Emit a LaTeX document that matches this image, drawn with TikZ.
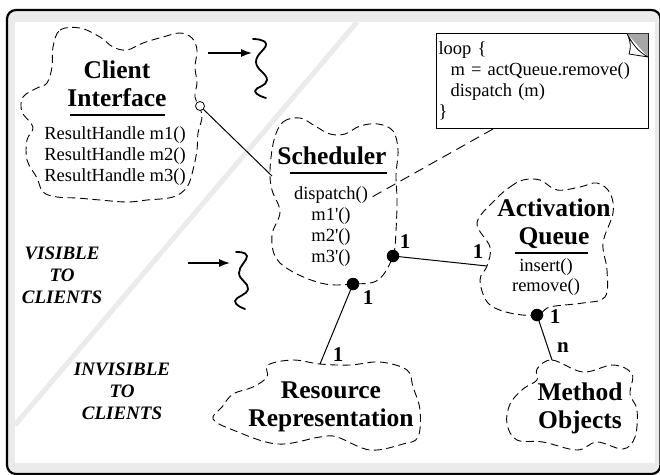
\documentclass[tikz,border=0pt]{standalone}
\usepackage{fontspec}
\setmainfont{Liberation Serif}
\usetikzlibrary{arrows.meta}
\definecolor{panelgray}{gray}{0.92}
\newcommand\hdfont{\fontsize{25.5}{28.5}\selectfont\bfseries}
\newcommand\txfont{\fontsize{18.5}{21}\selectfont}
\newcommand\tagfont{\fontsize{19}{22}\selectfont\bfseries\itshape}
\newcommand\multfont{\fontsize{21}{22}\selectfont\bfseries}
\begin{document}
\begin{tikzpicture}[x=1pt, y=-1pt, line join=round, >={Latex[length=11pt,width=8pt]},
	cloudline/.style={dash pattern=on 8pt off 4.5pt, line width=0.9pt},
	title/.style={font=\hdfont, align=center, inner sep=0pt, text depth=0pt, anchor=south},
	meth/.style={font=\txfont, align=center, inner sep=0pt, text depth=0pt, anchor=south},
	tag/.style={font=\tagfont, align=center, inner sep=0pt, text depth=0pt, anchor=south},
	mult/.style={font=\multfont, inner sep=0pt},
	joint/.style={circle, fill, inner sep=0pt, minimum size=12.5pt},
	port/.style={circle, draw, fill=white, inner sep=0pt, minimum size=9pt, line width=0.8pt},
	link/.style={line width=1pt},
	uline/.style={line width=1.5pt},
	thread/.style={line width=1.8pt, line cap=round}]
	\useasboundingbox (0,0) rectangle (660,474);
	% panel
	\draw[line width=2.2pt, fill=panelgray, rounded corners=9pt] (7,10) rectangle (660.5,474);
	\fill[white] (15,22) rectangle (655,463);
	\draw[line width=5pt, panelgray] (15,425) -- (357,22);
	% clouds
	\draw[cloudline] plot[smooth cycle, tension=0.6] coordinates {(53,47) (60,30) (80,28) (100,37) (113,47) (127,50) (143,43) (163,37) (180,33) (192,38) (197,50) (195,67) (197,83) (195,97) (202,115) (198,133) (197,150) (193,170) (187,187) (173,197) (147,200) (127,202) (100,200) (77,198) (57,197) (43,192) (37,178) (27,160) (27,140) (33,127) (22,112) (23,97) (37,88) (47,83) (52,67)};
	\draw[cloudline] plot[smooth cycle, tension=0.6] coordinates {(274,140) (283,122) (300,118) (315,126) (330,134) (345,134) (360,126) (378,124) (393,131) (398,150) (396,175) (397,200) (396,230) (393,256) (378,280) (353,284) (325,284) (295,273) (276,258) (272,235) (280,212) (272,190) (270,170)};
	\draw[cloudline] plot[smooth cycle, tension=0.6] coordinates {(495,200) (510,187) (523,180) (540,180) (557,190) (580,187) (597,183) (610,193) (613,213) (603,243) (607,270) (605,297) (583,303) (550,307) (537,315) (510,313) (488,303) (480,280) (487,266) (490,247) (477,223)};
	\draw[cloudline] plot[smooth cycle, tension=0.6] coordinates {(268,365) (293,360) (320,364) (350,365) (380,362) (407,370) (413,387) (420,410) (418,437) (403,444) (370,450) (337,437) (320,437) (277,444) (233,430) (213,419) (222,407) (233,394) (253,387) (267,377)};
	\draw[cloudline] plot[smooth cycle, tension=0.6] coordinates {(537,369) (552,360) (583,372) (613,365) (632,374) (630,394) (637,410) (635,437) (623,449) (597,442) (577,450) (543,442) (517,440) (507,424) (510,404) (523,389) (537,380)};
	% class texts
	\node[title] (citl) at (117,107) {Client\\Interface};
	\draw[uline] (70,115) -- (165,115);
	\node[meth] (cimt) at (115,182) {ResultHandle m1()\\ResultHandle m2()\\ResultHandle m3()};
	\node[title] (sctl) at (332,165) {Scheduler};
	\draw[uline] (290,173) -- (387,173);
	\node[meth] (scmt) at (331,263) {dispatch()\\m1\textquotesingle()\\m2\textquotesingle()\\m3\textquotesingle()};
	\node[title] (aqtl) at (554,245) {Activation\\Queue};
	\draw[uline] (515,253) -- (588,253);
	\node[meth] (aqmt) at (546,292) {insert()\\[-1pt]remove()};
	\node[title] (rrtl) at (331,427) {Resource\\Representation};
	\node[title] (motl) at (580,429) {Method\\Objects};
	% note
	\node[draw, line width=1pt, anchor=north west, font=\txfont, align=left, text width=208pt, inner xsep=2pt, inner ysep=0pt, minimum height=95pt] (note) at (436,33) {loop \{\\\hspace*{12pt}m = actQueue.remove()\\\hspace*{12pt}dispatch (m)\\\}};
	\fill[gray!70] (627,33.5) -- (648,33.5) -- (648,57);
	\filldraw[fill=white, line width=0.8pt] (627,33.5) .. controls (631,42) and (631,48) .. (629,54) -- (648,57) .. controls (637,51) and (632,43) .. (627,33.5);
	\coordinate (dspend) at (372,197);
	\draw[cloudline, dash pattern=on 10pt off 6pt] ([xshift=57pt]note.south west) -- (dspend);
	% connectors
	\node[port] (ciport) at (200,106) {};
	\coordinate (scin) at (272,176);
	\draw[link] (ciport) -- (scin);
	\node[joint] (scright) at (393,256) {};
	\coordinate (aqin) at (487,266);
	\draw[link] (scright.center) -- (aqin);
	\node[joint] (scbottom) at (353,284) {};
	\coordinate (rrin) at (320,364);
	\draw[link] (scbottom.center) -- (rrin);
	\node[joint] (aqbottom) at (537,315) {};
	\coordinate (moin) at (552,360);
	\draw[link] (aqbottom.center) -- (moin);
	\node[mult] (mscr) at (405,242) {1};
	\node[mult] (maql) at (478,252) {1};
	\node[mult] (mscb) at (368,298) {1};
	\node[mult] (mrrt) at (338,355) {1};
	\node[mult] (maqb) at (555,317) {1};
	\node[mult] (mmot) at (563,348) {n};
	% threads
	\coordinate (thas) at (208,53);
	\coordinate (thae) at (252,53);
	\draw[->, line width=1.3pt] (thas) -- (thae);
	\draw[thread] plot[smooth, tension=0.8] coordinates {(253,39) (266,44) (256,62) (267,80) (255,91) (266,98)};
	\coordinate (thbs) at (188,263);
	\coordinate (thbe) at (230,263);
	\draw[->, line width=1.3pt] (thbs) -- (thbe);
	\draw[thread] plot[smooth, tension=0.8] coordinates {(236,252) (247,256) (239,273) (248,289) (235,301) (245,309)};
	% visibility
	\node[tag] (vis) at (62,304) {VISIBLE\\TO\\CLIENTS};
	\node[tag] (invis) at (122,420) {INVISIBLE\\TO\\CLIENTS};
\end{tikzpicture}
\end{document}
